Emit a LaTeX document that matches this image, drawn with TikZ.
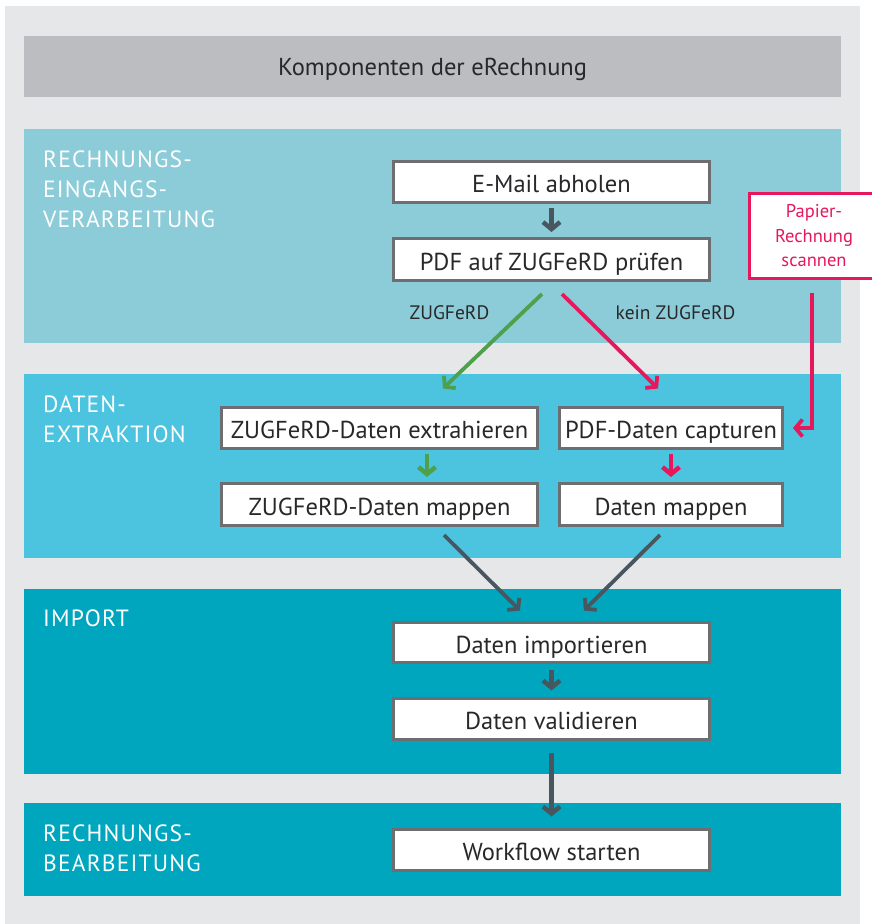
\documentclass[tikz,border=0pt]{standalone}
\usepackage{fontspec}
\setmainfont{PT Sans}
\newfontfamily\labelfont[LetterSpace=5]{PT Sans}
\usetikzlibrary{arrows.meta,calc}
\definecolor{bggray}{RGB}{230,231,233}
\definecolor{hdrgray}{RGB}{188,189,192}
\definecolor{bandA}{RGB}{139,204,216}
\definecolor{bandB}{RGB}{76,196,224}
\definecolor{bandC}{RGB}{0,166,189}
\definecolor{boxgray}{RGB}{109,110,113}
\definecolor{txtdark}{RGB}{40,40,42}
\definecolor{arrgray}{RGB}{72,86,95}
\definecolor{pinkc}{RGB}{231,23,92}
\definecolor{greenc}{RGB}{78,160,75}
\tikzset{
  stepbox/.style={draw=boxgray, line width=3pt, fill=white, inner sep=0pt,
    minimum width=316pt, minimum height=41pt, text=txtdark,
    text height=21.4pt, text depth=0pt,
    font=\fontsize{24.5}{28}\selectfont},
  seclabel/.style={anchor=north west, inner sep=0pt, text=white, align=left,
    font=\labelfont\fontsize{23.5}{30}\selectfont},
  smalllabel/.style={inner sep=0pt, text=txtdark, font=\fontsize{19.5}{22}\selectfont},
  flowarrow/.style={line width=4.5pt, -{Straight Barb[length=7pt,width=17pt]}, line join=miter},
  diagarrow/.style={line width=3.8pt, -{Straight Barb[length=7pt,width=17pt]}, line join=miter},
}
\begin{document}
\begin{tikzpicture}[x=1pt,y=-1pt]
\useasboundingbox (0,0) rectangle (872,924);
\fill[white] (0,0) rectangle (872,924);
\fill[bggray] (5,6) rectangle (860,924);
% header
\fill[hdrgray] (24,36) rectangle (841,97);
\node[inner sep=0pt, text=txtdark, font=\fontsize{24.5}{28}\selectfont] (hdr) at (432.5,69) {Komponenten der eRechnung};
% bands
\fill[bandA] (24,129) rectangle (841,343);
\fill[bandB] (24,374) rectangle (841,558);
\fill[bandC] (24,589) rectangle (841,774);
\fill[bandC] (24,803) rectangle (841,896);
% section labels
\node[seclabel] (s1) at (43,151) {RECHNUNGS-\\EINGANGS-\\VERARBEITUNG};
\node[seclabel] (s2) at (43,396) {DATEN-\\EXTRAKTION};
\node[seclabel] (s3) at (43,610) {IMPORT};
\node[seclabel] (s4) at (43,825) {RECHNUNGS-\\BEARBEITUNG};
% boxes
\node[stepbox] (email) at (551.5,182) {E-Mail abholen};
\node[stepbox, minimum height=42pt] (pdf) at (551.5,259.5) {PDF auf ZUGFeRD prüfen};
\node[stepbox] (zextr) at (379.5,428) {ZUGFeRD-Daten extrahieren};
\node[stepbox, minimum width=223pt] (pcap) at (671,428) {PDF-Daten capturen};
\node[stepbox, minimum height=42pt] (zmap) at (379.5,504.5) {ZUGFeRD-Daten mappen};
\node[stepbox, minimum width=223pt, minimum height=42pt] (dmap) at (671,504.5) {Daten mappen};
\node[stepbox, minimum height=40pt] (imp) at (551.5,642.5) {Daten importieren};
\node[stepbox] (val) at (551.5,719) {Daten validieren};
\node[stepbox] (wf) at (551.5,850) {Workflow starten};
% paper box
\node[draw=pinkc, line width=3pt, fill=white, inner sep=0pt, minimum width=129pt,
  minimum height=85pt, text=pinkc, align=center, font=\fontsize{18.5}{24.5}\selectfont]
  (paper) at (814,236) {Papier-\\Rechnung\\scannen};
% small labels
\node[smalllabel] (lz) at (449.5,313) {ZUGFeRD};
\node[smalllabel] (lk) at (675.5,313) {kein ZUGFeRD};
% arrows
\draw[flowarrow, arrgray] ([yshift=-4pt]email.south) -- ([yshift=5pt]pdf.north);
\draw[diagarrow, greenc] ($(pdf.south)+(-9.5,12)$) -- ($(zextr.north)+(63.5,-17.5)$);
\draw[diagarrow, pinkc] ($(pdf.south)+(10.5,12)$) -- ($(pcap.north)+(-13,-17.5)$);
\draw[diagarrow, pinkc] ($(paper.south)+(-2,13)$) |- ([xshift=9pt]pcap.east);
\draw[flowarrow, greenc] ($(zextr.south)+(47.5,4)$) -- ($(zmap.north)+(47.5,-5)$);
\draw[flowarrow, pinkc] ([yshift=-4pt]pcap.south) -- ([yshift=5pt]dmap.north);
\draw[diagarrow, arrgray] ($(zmap.south)+(64.5,8)$) -- ($(imp.north)+(-31.5,-10.5)$);
\draw[diagarrow, arrgray] ($(dmap.south)+(-11,8)$) -- ($(imp.north)+(32.5,-10.5)$);
\draw[flowarrow, arrgray] ([yshift=-6pt]imp.south) -- ([yshift=6.5pt]val.north);
\draw[flowarrow, arrgray] ([yshift=-12pt]val.south) -- ([yshift=11.5pt]wf.north);
\end{tikzpicture}
\end{document}
